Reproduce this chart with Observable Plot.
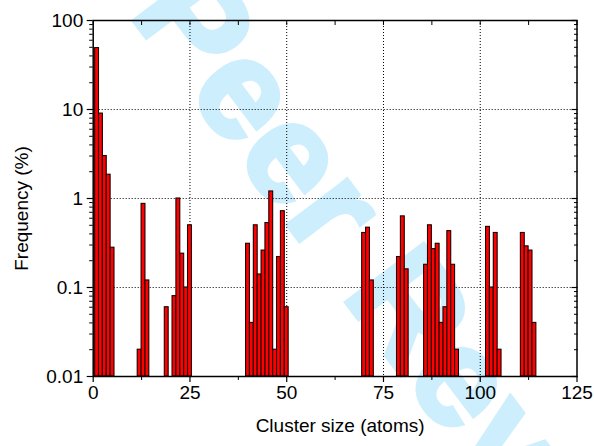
<!DOCTYPE html>
<html>
<head>
<meta charset="utf-8">
<script src="https://cdn.jsdelivr.net/npm/d3@7"></script>
<script src="https://cdn.jsdelivr.net/npm/@observablehq/plot@0.6"></script>
<style>
  html, body { margin: 0; padding: 0; background: white; }
  #wrap { position: relative; width: 594px; height: 446px; overflow: hidden; background: white; }
  #wm { position: absolute; left: 340px; top: 214px; width: 0; height: 0; }
  #wm span {
    position: absolute; left: 0; top: 0;
    transform: translate(-50%, -50%) rotate(53deg);
    white-space: nowrap; font-family: "Liberation Sans", Arial, sans-serif;
    font-weight: bold; font-size: 140px; color: #cdeefc; line-height: 1;
    -webkit-text-stroke: 5px #cdeefc; letter-spacing: 2px;
  }
  #chart { position: absolute; left: 0; top: 0; }
</style>
</head>
<body>
<div id="wrap">
  <div id="wm"><span>For Peer Review</span></div>
  <div id="chart"></div>
</div>
<script>
const sizes = [1,2,3,4,5, 12,13,14, 19,21,22,23,24,25,
  40,41,42,43,44,45,46,47,48,49,50,
  70,71,72, 79,80,81,
  86,87,88,89,90,91,92,93,94,
  102,103,104,105, 111,112,113,114];
const freqs = [49,9.0,3.0,1.85,0.28, 0.02,0.87,0.12, 0.06,0.08,1.0,0.24,0.1,0.5,
  0.31,0.04,0.5,0.14,0.26,0.53,1.2,0.02,0.22,0.72,0.06,
  0.41,0.47,0.12, 0.22,0.63,0.16,
  0.18,0.5,0.27,0.31,0.04,0.06,0.43,0.18,0.02,
  0.48,0.1,0.41,0.02, 0.41,0.29,0.26,0.04];
const xTicks = [0,25,50,75,100,125];
const xTickLabels = ["0","25","50","75","100","125"];
const xMinor = [12.5,37.5,62.5,87.5,112.5];
const xGrid = [25,50,75,100];
const yTicks = [0.01,0.1,1,10,100];
const yTickLabels = ["0.01","0.1","1","10","100"];
const yGrid = [0.1,1,10];
const yMinorMult = [2,3,4,5,6,7,8,9];
const yMinor = [0.01,0.1,1,10].flatMap(d => yMinorMult.map(m => +(d*m).toPrecision(3)));
const xTitle = "Cluster size (atoms)";
const yTitle = "Frequency (%)";

const data = sizes.map((s, i) => ({size: s, freq: freqs[i]}));
const font = "'Liberation Sans', Arial, Helvetica, sans-serif";
const none = () => "";

const chart = Plot.plot({
  width: 594,
  height: 446,
  marginLeft: 92.7,
  marginRight: 17.5,
  marginTop: 20,
  marginBottom: 70,
  style: {background: "transparent", fontFamily: font, fontSize: "19px", color: "black"},
  x: {domain: [0, 125]},
  y: {type: "log", domain: [0.01, 100]},
  marks: [
    Plot.gridX(xGrid, {stroke: "black", strokeOpacity: 1, strokeWidth: 1, strokeDasharray: "1,2"}),
    Plot.gridY(yGrid, {stroke: "black", strokeOpacity: 1, strokeWidth: 1, strokeDasharray: "1,2"}),
    Plot.rect(data, {
      x1: d => d.size - 0.5, x2: d => d.size + 0.5,
      y1: () => 0.01, y2: "freq",
      fill: "#ff0000", stroke: "#1a0000", strokeWidth: 1.1
    }),
    Plot.axisY({ticks: yTicks, tickFormat: d => yTickLabels[yTicks.indexOf(d)], tickSize: 6, tickPadding: 4, fontSize: 19, label: null, stroke: "black", strokeWidth: 1.2}),
    Plot.axisY({ticks: yMinor, tickFormat: none, tickSize: 3.5, label: null, stroke: "black"}),
    Plot.axisY({anchor: "right", ticks: yTicks, tickFormat: none, tickSize: -6, label: null, stroke: "black", strokeWidth: 1.2}),
    Plot.axisY({anchor: "right", ticks: yMinor, tickFormat: none, tickSize: -3.5, label: null, stroke: "black"}),
    Plot.axisX({ticks: xTicks, tickFormat: d => xTickLabels[xTicks.indexOf(d)], tickSize: 6, tickPadding: 3, fontSize: 19, label: null, stroke: "black", strokeWidth: 1.2}),
    Plot.axisX({ticks: xMinor, tickFormat: none, tickSize: 4, label: null, stroke: "black"}),
    Plot.axisX({anchor: "top", ticks: xTicks.concat(xMinor), tickFormat: none, tickSize: -4, label: null, stroke: "black"}),
    Plot.frame({stroke: "black", strokeWidth: 1.5}),
    Plot.text([xTitle], {frameAnchor: "bottom", dy: 55, dx: 5, fontSize: 19, fill: "black", text: d => d}),
    Plot.text([yTitle], {frameAnchor: "left", dx: -71, dy: 10, rotate: -90, textAnchor: "middle", fontSize: 19, fill: "black", text: d => d})
  ]
});
document.getElementById("chart").appendChild(chart);
</script>
</body>
</html>
